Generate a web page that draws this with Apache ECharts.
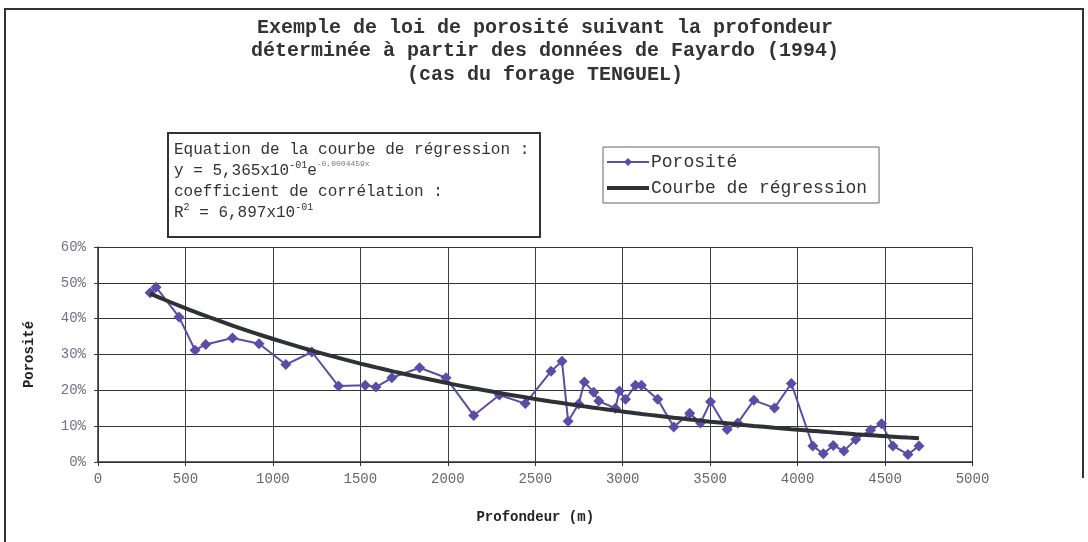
<!DOCTYPE html>
<html>
<head>
<meta charset="utf-8">
<script src="https://cdn.jsdelivr.net/npm/echarts@6/dist/echarts.min.js"></script>
<style>
  html, body { margin: 0; padding: 0; background: #fff; }
  #chart { width: 1088px; height: 542px; }
</style>
</head>
<body>
<div id="chart"></div>
<script>
// Profondeur (m) des mesures
const depth = [298, 332, 463, 555, 616, 769, 921, 1074, 1223, 1375, 1528, 1589, 1680, 1839, 1990,
  2148, 2295, 2443, 2590, 2653, 2688, 2748, 2781, 2834, 2863, 2958, 2981, 3016, 3073, 3107, 3200,
  3292, 3383, 3445, 3502, 3597, 3658, 3750, 3868, 3964, 4087, 4147, 4204, 4265, 4332, 4417, 4480,
  4545, 4631, 4694];
// Porosité mesurée (%)
const porosity = [47.2, 48.8, 40.5, 31.2, 32.8, 34.6, 33.0, 27.2, 30.7, 21.2, 21.4, 20.9, 23.5, 26.3, 23.5,
  13.0, 18.7, 16.3, 25.3, 28.1, 11.4, 16.2, 22.3, 19.5, 17.0, 15.0, 19.8, 17.5, 21.4, 21.4, 17.5,
  9.8, 13.6, 10.9, 16.8, 9.1, 10.9, 17.2, 15.1, 21.9, 4.5, 2.3, 4.6, 3.1, 6.3, 8.9, 10.7,
  4.5, 2.1, 4.5];
// Coefficients de la régression exponentielle y = a·e^(-b·x)
const regA = 0.5365;
const regB = 0.0004459;
const seriesNames = ['Porosité', 'Courbe de régression'];
const titleLines = [
  'Exemple de loi de porosité suivant la profondeur',
  'déterminée à partir des données de Fayardo (1994)',
  '(cas du forage TENGUEL)'
];

const regression = depth.map(d => [d, 100 * regA * Math.exp(-regB * d)]);
const measured = depth.map((d, i) => [d, porosity[i]]);

const mono = '"Liberation Mono", "Courier New", monospace';
const chart = echarts.init(document.getElementById('chart'), null, { renderer: 'canvas' });

chart.setOption({
  backgroundColor: '#ffffff',
  animation: false,
  textStyle: { fontFamily: mono },
  legend: {
    data: [
      { name: seriesNames[0] },
      { name: seriesNames[1], icon: 'path://M0,0h42v4h-42z' }
    ],
    orient: 'vertical',
    left: 603,
    top: 147,
    padding: [6, 12, 6, 3],
    itemGap: 8,
    itemWidth: 42,
    itemHeight: 10,
    symbolKeepAspect: true,
    borderColor: '#666',
    borderWidth: 1,
    textStyle: { fontFamily: mono, fontSize: 18, color: '#333', padding: [0, 0, 0, -3] }
  },
  grid: { left: 98, right: 115.5, top: 247, bottom: 80, containLabel: false },
  xAxis: {
    type: 'value',
    min: 0, max: 5000, interval: 500,
    name: 'Profondeur (m)',
    nameLocation: 'middle',
    nameGap: 48,
    nameTextStyle: { fontFamily: mono, fontSize: 14, fontWeight: 'bold', color: '#222' },
    axisLine: { show: true, lineStyle: { color: '#333', width: 1.5 } },
    axisTick: { show: true, length: 4, lineStyle: { color: '#333' } },
    axisLabel: { fontFamily: mono, fontSize: 14, color: '#666', margin: 10, formatter: v => String(v) },
    splitLine: { show: true, lineStyle: { color: '#3b3b55', width: 1 } }
  },
  yAxis: {
    type: 'value',
    min: 0, max: 60, interval: 10,
    name: 'Porosité',
    nameLocation: 'middle',
    nameGap: 62,
    nameTextStyle: { fontFamily: mono, fontSize: 14, fontWeight: 'bold', color: '#222' },
    axisLine: { show: true, lineStyle: { color: '#333', width: 1.5 } },
    axisTick: { show: true, length: 4, lineStyle: { color: '#333' } },
    axisLabel: { fontFamily: mono, fontSize: 14, color: '#707088', margin: 12, formatter: '{value}%' },
    splitLine: { show: true, lineStyle: { color: '#333', width: 1 } }
  },
  series: [
    {
      name: seriesNames[0],
      type: 'line',
      data: measured,
      symbol: 'diamond',
      symbolSize: 11,
      color: '#5a4da8',
      lineStyle: { color: '#5a4da8', width: 2 },
      itemStyle: { color: '#5a4da8' },
      z: 2
    },
    {
      name: seriesNames[1],
      type: 'line',
      data: regression,
      symbol: 'none',
      smooth: true,
      color: '#2e3135',
      lineStyle: { color: '#2e3135', width: 4 },
      z: 3
    }
  ],
  graphic: [
    {
      type: 'polyline',
      shape: { points: [[5, 542], [5, 9], [1083, 9], [1083, 478]] },
      style: { stroke: '#333', lineWidth: 2, fill: null }
    },
    {
      type: 'text',
      x: 545,
      y: 16,
      style: {
        text: titleLines.join('\n'),
        font: 'bold 20px ' + mono,
        fill: '#333',
        align: 'center',
        lineHeight: 23.5
      }
    },
    {
      type: 'rect',
      shape: { x: 168, y: 133, width: 372, height: 104 },
      style: { stroke: '#333', lineWidth: 2, fill: '#fff' },
      z: 10
    },
    {
      type: 'text',
      left: 174,
      top: 139,
      z: 11,
      style: {
        text: [
          'Equation de la courbe de régression :',
          'y = 5,365x10{s|-01}e{t|-0,0004459x}',
          'coefficient de corrélation :',
          'R{s|2} = 6,897x10{s|-01}'
        ].join('\n'),
        font: '16px ' + mono,
        fill: '#333',
        lineHeight: 21,
        rich: {
          s: { fontFamily: mono, fontSize: 10, fill: '#333', verticalAlign: 'top', lineHeight: 21 },
          t: { fontFamily: mono, fontSize: 8, fill: '#777', verticalAlign: 'top', lineHeight: 21 }
        }
      }
    }
  ]
});
</script>
</body>
</html>
